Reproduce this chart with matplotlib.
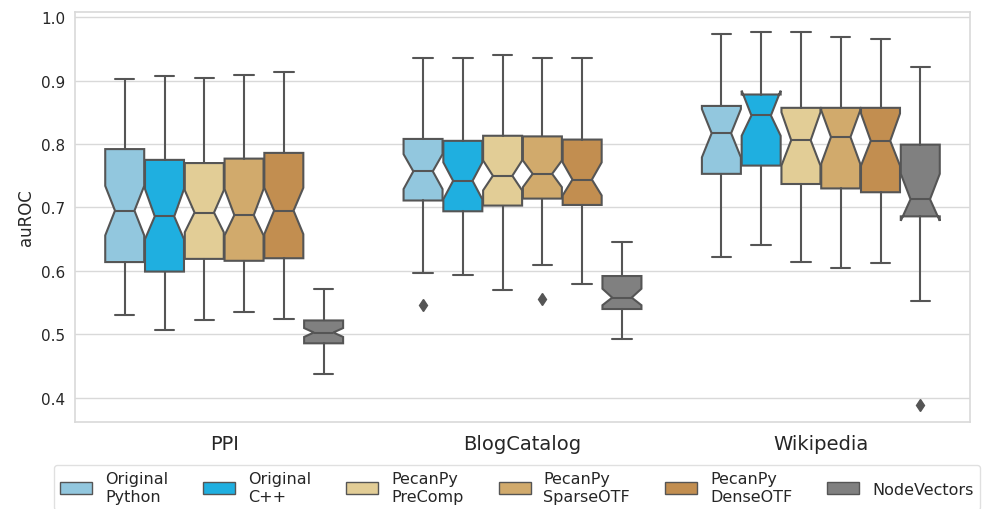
import matplotlib
matplotlib.use('Agg')
import matplotlib.pyplot as plt
from matplotlib.patches import Patch
import seaborn as sns

sns.set_style('whitegrid')
plt.rcParams['font.family'] = ['DejaVu Sans']

datasets = ['PPI', 'BlogCatalog', 'Wikipedia']
methods = ['Original\nPython', 'Original\nC++', 'PecanPy\nPreComp',
           'PecanPy\nSparseOTF', 'PecanPy\nDenseOTF', 'NodeVectors']
colors = ['#92c7de', '#1fafe0', '#e2cd96', '#d1aa6c', '#c28e50', '#808080']
line_color = '#555555'

# rows: datasets, columns: methods
whis_hi = [[0.902, 0.907, 0.904, 0.909, 0.914, 0.572],
           [0.936, 0.935, 0.941, 0.935, 0.936, 0.645],
           [0.973, 0.976, 0.976, 0.969, 0.965, 0.922]]
q3 = [[0.792, 0.775, 0.770, 0.777, 0.786, 0.522],
      [0.808, 0.805, 0.813, 0.812, 0.807, 0.592],
      [0.860, 0.878, 0.857, 0.857, 0.857, 0.799]]
ci_hi = [[0.734, 0.729, 0.727, 0.729, 0.731, 0.510],
         [0.784, 0.771, 0.774, 0.774, 0.771, 0.572],
         [0.855, 0.884, 0.850, 0.853, 0.848, 0.753]]
median = [[0.695, 0.686, 0.692, 0.688, 0.695, 0.503],
          [0.757, 0.742, 0.750, 0.753, 0.744, 0.558],
          [0.817, 0.845, 0.806, 0.811, 0.805, 0.713]]
ci_lo = [[0.656, 0.650, 0.661, 0.656, 0.658, 0.496],
         [0.729, 0.713, 0.727, 0.732, 0.719, 0.546],
         [0.779, 0.813, 0.766, 0.769, 0.766, 0.679]]
q1 = [[0.614, 0.599, 0.619, 0.616, 0.620, 0.486],
      [0.711, 0.694, 0.703, 0.714, 0.704, 0.540],
      [0.753, 0.766, 0.737, 0.730, 0.724, 0.686]]
whis_lo = [[0.531, 0.507, 0.522, 0.536, 0.524, 0.438],
           [0.596, 0.594, 0.570, 0.610, 0.580, 0.493],
           [0.622, 0.641, 0.614, 0.605, 0.612, 0.553]]
fliers = [[[], [], [], [], [], []],
          [[0.546], [], [], [0.556], [], []],
          [[], [], [], [], [], [0.389]]]

fig = plt.figure(figsize=(9.92, 5.10), dpi=100)
ax = fig.add_axes([75 / 992, 87 / 510, 895 / 992, 410 / 510])

n = len(methods)
group_w = 0.8
bw = group_w / n
stats, positions, facecols = [], [], []
for i in range(len(datasets)):
    for j in range(n):
        stats.append(dict(med=median[i][j], q1=q1[i][j], q3=q3[i][j],
                          whislo=whis_lo[i][j], whishi=whis_hi[i][j],
                          cilo=ci_lo[i][j], cihi=ci_hi[i][j],
                          fliers=fliers[i][j]))
        positions.append(i + (j - (n - 1) / 2) * bw)
        facecols.append(colors[j])

lw = 1.5
res = ax.bxp(stats, positions=positions, widths=bw * 0.98, shownotches=True,
             patch_artist=True, manage_ticks=False,
             boxprops=dict(edgecolor=line_color, linewidth=lw),
             whiskerprops=dict(color=line_color, linewidth=lw),
             capprops=dict(color=line_color, linewidth=lw),
             medianprops=dict(color=line_color, linewidth=lw),
             flierprops=dict(marker='d', markerfacecolor=line_color,
                             markeredgecolor=line_color, markersize=6))
for patch, c in zip(res['boxes'], facecols):
    patch.set_facecolor(c)

ax.set_xlim(-0.5, len(datasets) - 0.5)
ax.set_ylim(0.362, 1.008)
ax.set_xticks(range(len(datasets)))
ax.set_xticklabels(datasets, fontsize=14)
ax.set_yticks([0.4, 0.5, 0.6, 0.7, 0.8, 0.9, 1.0])
ax.set_yticklabels(['0.4', '0.5', '0.6', '0.7', '0.8', '0.9', '1.0'], fontsize=11)
ax.set_ylabel('auROC', fontsize=12)
ax.xaxis.grid(False)
ax.yaxis.grid(True, color='0.85', linewidth=1)
for s in ax.spines.values():
    s.set_color('0.85')
    s.set_linewidth(1.2)
ax.tick_params(axis='x', pad=5)

handles = [Patch(facecolor=c, edgecolor=line_color, linewidth=1) for c in colors]
fig.legend(handles, methods, loc='upper left', bbox_to_anchor=(54 / 992, 44 / 510),
           ncol=6, fontsize=11.5, frameon=True, borderaxespad=0,
           columnspacing=2.2, edgecolor='0.85', fancybox=True)

fig.savefig('out.png', dpi=100)
